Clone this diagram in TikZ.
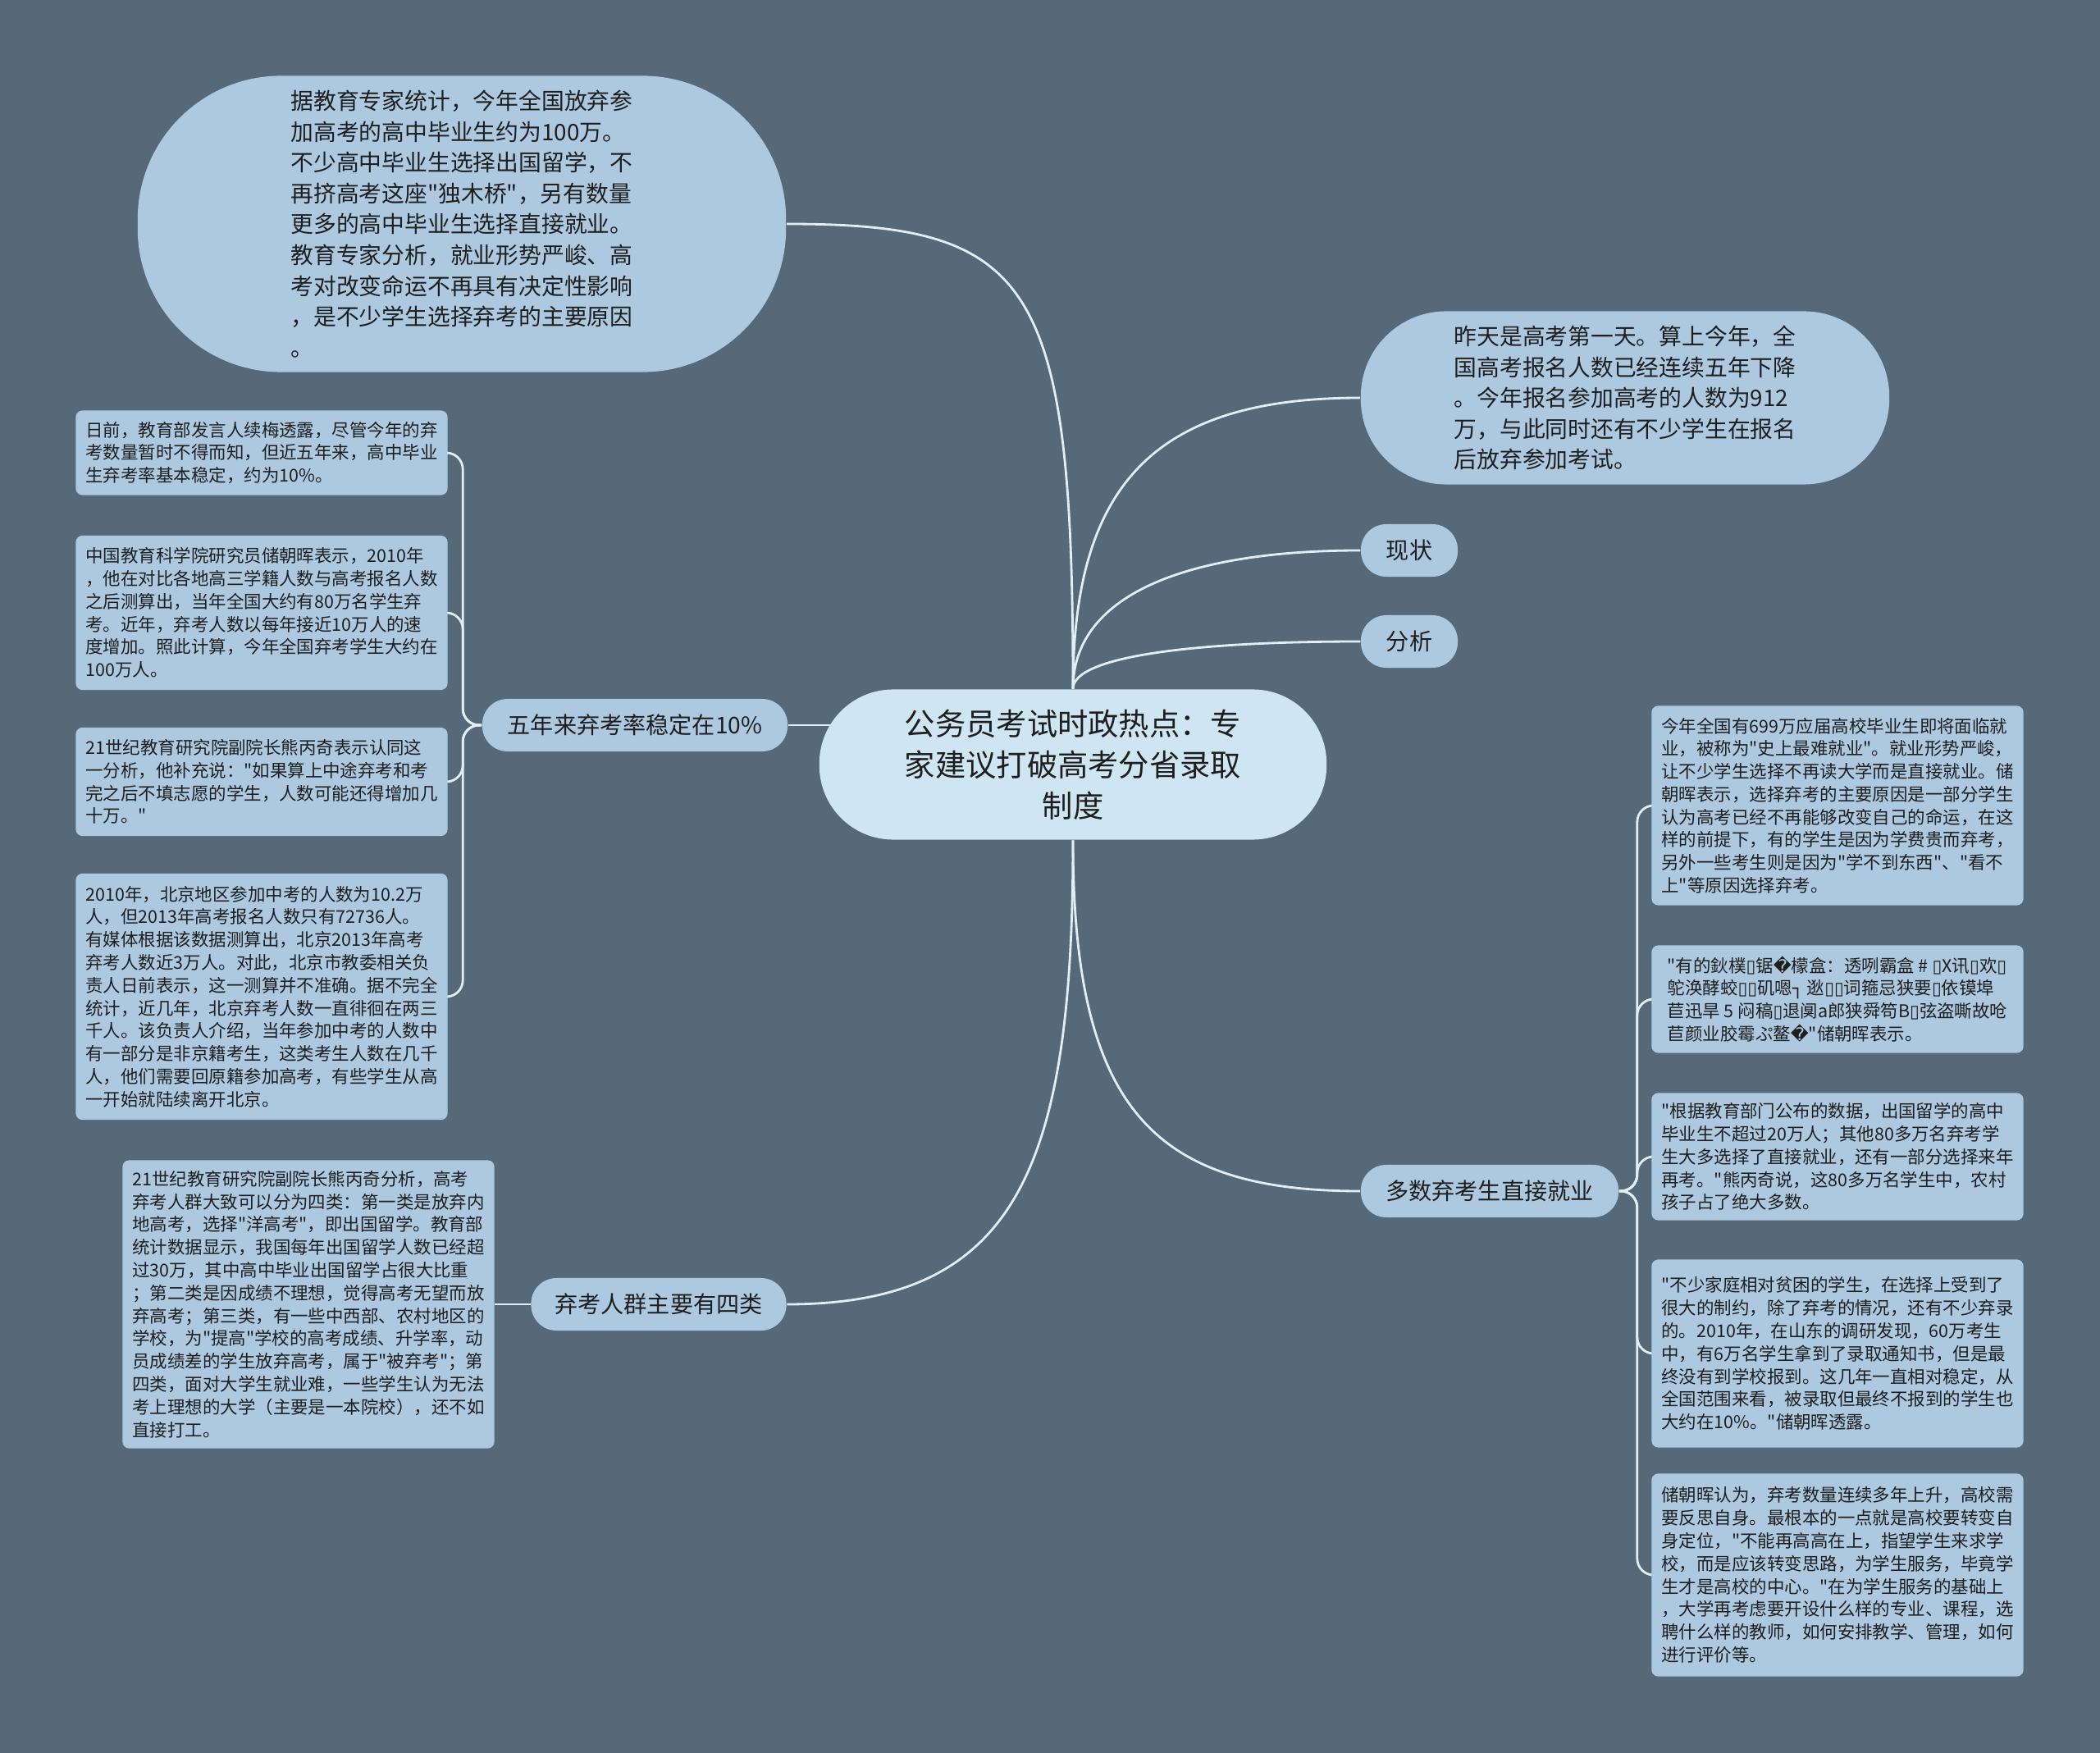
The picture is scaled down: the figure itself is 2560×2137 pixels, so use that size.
\documentclass[tikz,border=0pt]{standalone}
\usepackage{fontspec}
\setmainfont{Noto Sans CJK SC}[Ligatures=TeXOff]
\newfontfamily\djv{DejaVu Sans}[Ligatures=TeXOff]
\newcommand\tofu{{\djv ▯}}

\definecolor{slate}{RGB}{85,105,121}
\definecolor{bubblefill}{RGB}{172,201,224}
\definecolor{rootfill}{RGB}{206,229,242}
\definecolor{linkcol}{RGB}{226,238,246}
\definecolor{ink}{RGB}{30,30,30}

\pgfdeclarelayer{bg}
\pgfdeclarelayer{links}
\pgfsetlayers{bg,links,main}

\begin{document}
\begin{tikzpicture}[x=0.01cm,y=-0.01cm]
  \tikzstyle{bubble}=[fill=bubblefill, text=ink, align=left, inner sep=0pt,
    font=\fontsize{7.9}{10.7}\selectfont]
  \tikzstyle{branch}=[fill=bubblefill, text=ink, inner sep=0pt, rounded corners=0.31cm,
    minimum height=0.64cm, font=\fontsize{8}{10}\selectfont]
  \tikzstyle{leaf}=[fill=bubblefill, text=ink, align=left, inner sep=0pt, rounded corners=0.08cm,
    minimum width=4.53cm, font=\fontsize{6.1}{7.9}\selectfont]
  \tikzstyle{link}=[draw=linkcol, line width=0.8pt]

  \useasboundingbox (0,0) rectangle (2560,2137);
  \begin{pgfonlayer}{bg}
    \fill[slate] (0,0) rectangle (2560,2137);
  \end{pgfonlayer}

  % centre
  \node[fill=rootfill, text=ink, align=center, inner sep=0pt, rounded corners=0.9cm,
    minimum width=6.18cm, minimum height=1.83cm, font=\fontsize{10.6}{14.2}\selectfont]
    (root) at (1308,932) {公务员考试时政热点：专\\家建议打破高考分省录取\\制度};

  % upper side
  \node[bubble, minimum width=7.9cm, minimum height=3.61cm, rounded corners=1.75cm]
    (reason) at (563,273) {据教育专家统计，今年全国放弃参\\加高考的高中毕业生约为100万。\\不少高中毕业生选择出国留学，不\\再挤高考这座"独木桥"，另有数量\\更多的高中毕业生选择直接就业。\\教育专家分析，就业形势严峻、高\\考对改变命运不再具有决定性影响\\，是不少学生选择弃考的主要原因\\。};
  \node[bubble, minimum width=6.44cm, minimum height=2.11cm, rounded corners=1.04cm]
    (intro) at (1981,485) {昨天是高考第一天。算上今年，全\\国高考报名人数已经连续五年下降\\。今年报名参加高考的人数为912\\万，与此同时还有不少学生在报名\\后放弃参加考试。};
  \node[branch, minimum width=1.18cm] (status) at (1718,671) {现状};
  \node[branch, minimum width=1.18cm] (analysis) at (1718,782) {分析};

  % left side
  \node[branch, minimum width=3.72cm] (rate) at (774,884) {五年来弃考率稳定在10\%};
  \node[branch, minimum width=3.11cm] (groups) at (803,1590) {弃考人群主要有四类};

  \node[leaf, minimum height=1.03cm] (rate1) at (319,552) {日前，教育部发言人续梅透露，尽管今年的弃\\考数量暂时不得而知，但近五年来，高中毕业\\生弃考率基本稳定，约为10\%。};
  \node[leaf, minimum height=1.88cm] (rate2) at (319,747) {中国教育科学院研究员储朝晖表示，2010年\\，他在对比各地高三学籍人数与高考报名人数\\之后测算出，当年全国大约有80万名学生弃\\考。近年，弃考人数以每年接近10万人的速\\度增加。照此计算，今年全国弃考学生大约在\\100万人。};
  \node[leaf, minimum height=1.32cm] (rate3) at (319,953) {21世纪教育研究院副院长熊丙奇表示认同这\\一分析，他补充说："如果算上中途弃考和考\\完之后不填志愿的学生，人数可能还得增加几\\十万。"};
  \node[leaf, minimum height=3.0cm] (rate4) at (319,1215) {2010年，北京地区参加中考的人数为10.2万\\人，但2013年高考报名人数只有72736人。\\有媒体根据该数据测算出，北京2013年高考\\弃考人数近3万人。对此，北京市教委相关负\\责人日前表示，这一测算并不准确。据不完全\\统计，近几年，北京弃考人数一直徘徊在两三\\千人。该负责人介绍，当年参加中考的人数中\\有一部分是非京籍考生，这类考生人数在几千\\人，他们需要回原籍参加高考，有些学生从高\\一开始就陆续离开北京。};
  \node[leaf, minimum height=3.51cm] (groups1) at (376,1590) {21世纪教育研究院副院长熊丙奇分析，高考\\弃考人群大致可以分为四类：第一类是放弃内\\地高考，选择"洋高考"，即出国留学。教育部\\统计数据显示，我国每年出国留学人数已经超\\过30万，其中高中毕业出国留学占很大比重\\；第二类是因成绩不理想，觉得高考无望而放\\弃高考；第三类，有一些中西部、农村地区的\\学校，为"提高"学校的高考成绩、升学率，动\\员成绩差的学生放弃高考，属于"被弃考"；第\\四类，面对大学生就业难，一些学生认为无法\\考上理想的大学（主要是一本院校），还不如\\直接打工。};

  % right side
  \node[branch, minimum width=3.14cm] (work) at (1816,1452) {多数弃考生直接就业};

  \node[leaf, minimum height=2.43cm] (work1) at (2240,982) {今年全国有699万应届高校毕业生即将面临就\\业，被称为"史上最难就业"。就业形势严峻，\\让不少学生选择不再读大学而是直接就业。储\\朝晖表示，选择弃考的主要原因是一部分学生\\认为高考已经不再能够改变自己的命运，在这\\样的前提下，有的学生是因为学费贵而弃考，\\另外一些考生则是因为"学不到东西"、"看不\\上"等原因选择弃考。};
  \node[leaf, minimum height=1.31cm] (work2) at (2240,1218) {"有的鈥樸\tofu 锯{\djv �}檬盒：透咧霸盒 \# \tofu X讯\tofu 欢\tofu\\鸵涣酵蛟\tofu\tofu 矶嗯{\djv ┐} 逖\tofu\tofu 词箍忌狭要\tofu 依镆埠\\苣迅旱 5 闷稿\tofu 退阒a郎狭舜笱B\tofu 弦盗嘶故呛\\苣颜业胶霉ぷ鳌{\djv �}"储朝晖表示。};
  \node[leaf, minimum height=1.55cm] (work3) at (2240,1410) {"根据教育部门公布的数据，出国留学的高中\\毕业生不超过20万人；其他80多万名弃考学\\生大多选择了直接就业，还有一部分选择来年\\再考。"熊丙奇说，这80多万名学生中，农村\\孩子占了绝大多数。};
  \node[leaf, minimum height=2.29cm] (work4) at (2240,1650) {"不少家庭相对贫困的学生，在选择上受到了\\很大的制约，除了弃考的情况，还有不少弃录\\的。2010年，在山东的调研发现，60万考生\\中，有6万名学生拿到了录取通知书，但是最\\终没有到学校报到。这几年一直相对稳定，从\\全国范围来看，被录取但最终不报到的学生也\\大约在10\%。"储朝晖透露。};
  \node[leaf, minimum height=2.47cm] (work5) at (2240,1920) {储朝晖认为，弃考数量连续多年上升，高校需\\要反思自身。最根本的一点就是高校要转变自\\身定位，"不能再高高在上，指望学生来求学\\校，而是应该转变思路，为学生服务，毕竟学\\生才是高校的中心。"在为学生服务的基础上\\，大学再考虑要开设什么样的专业、课程，选\\聘什么样的教师，如何安排教学、管理，如何\\进行评价等。};

  \begin{pgfonlayer}{links}
    \draw[link] (root.north) .. controls +(0,-500) and +(300,0) .. (reason.east);
    \draw[link] (root.north) .. controls +(0,-250) and +(-250,0) .. (intro.west);
    \draw[link] (root.north) .. controls +(0,-120) and +(-200,0) .. (status.west);
    \draw[link] (root.north) .. controls +(0,-40) and +(-200,0) .. (analysis.west);
    \draw[link] (root.south) .. controls +(0,330) and +(-250,0) .. (work.west);
    \draw[link] (root.south) .. controls +(0,400) and +(280,0) .. (groups.east);
    \draw[link] (rate.east) -- ([xshift=0.4cm]root.west |- rate.east);

    \foreach \i in {1,...,4}
      \draw[link, rounded corners=0.2cm] (rate.west) -- ++(-23,0) |- (rate\i.east);
    \draw[link] (groups.west) -- (groups1.east);
    \foreach \i in {1,...,5}
      \draw[link, rounded corners=0.2cm] (work.east) -- ++(22,0) |- (work\i.west);
  \end{pgfonlayer}
\end{tikzpicture}
\end{document}
